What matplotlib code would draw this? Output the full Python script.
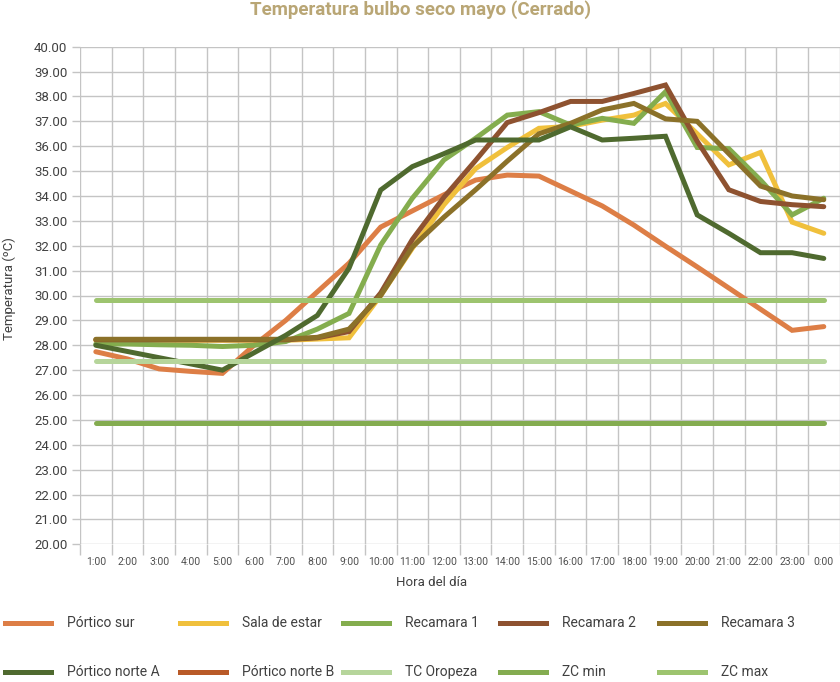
import matplotlib.pyplot as plt
from matplotlib.lines import Line2D

plt.rcParams['font.family'] = ['Roboto', 'DejaVu Sans']

hours = ["1:00", "2:00", "3:00", "4:00", "5:00", "6:00", "7:00", "8:00",
         "9:00", "10:00", "11:00", "12:00", "13:00", "14:00", "15:00", "16:00",
         "17:00", "18:00", "19:00", "20:00", "21:00", "22:00", "23:00", "0:00"]

portico_sur = [27.74, 27.45, 27.05, 26.95, 26.87, 28.0, 29.0, 30.15, 31.3, 32.75,
               33.4, 34.05, 34.64, 34.84, 34.8, 34.2, 33.6, 32.83, 31.98, 31.15,
               30.3, 29.45, 28.6, 28.75]
sala_estar = [28.2, 28.2, 28.2, 28.2, 28.2, 28.2, 28.2, 28.25, 28.3, 30.0,
              31.9, 33.65, 35.1, 35.95, 36.72, 36.8, 37.05, 37.25, 37.72, 36.5,
              35.25, 35.75, 32.95, 32.5]
recamara_1 = [28.05, 28.05, 28.02, 28.0, 27.95, 28.0, 28.15, 28.65, 29.28, 32.03,
              33.91, 35.45, 36.32, 37.25, 37.39, 36.85, 37.12, 36.92, 38.19, 35.95,
              35.9, 34.64, 33.24, 33.91]
recamara_2 = [28.22, 28.22, 28.22, 28.22, 28.22, 28.22, 28.22, 28.3, 28.55, 30.1,
              32.25, 33.95, 35.43, 36.95, 37.35, 37.8, 37.8, 38.12, 38.46, 36.2,
              34.25, 33.78, 33.65, 33.57]
recamara_3 = [28.24, 28.24, 28.24, 28.24, 28.24, 28.24, 28.24, 28.32, 28.65, 30.0,
              31.95, 33.15, 34.25, 35.4, 36.5, 36.92, 37.46, 37.72, 37.1, 37.0,
              35.7, 34.4, 34.0, 33.85]
portico_norte_a = [28.0, 27.75, 27.5, 27.25, 27.0, 27.7, 28.4, 29.2, 31.1, 34.24,
                   35.18, 35.7, 36.25, 36.25, 36.25, 36.78, 36.25, 36.32, 36.4, 33.24,
                   32.5, 31.72, 31.72, 31.49]
portico_norte_b = []
tc_oropeza = [27.35] * 24
zc_min = [24.88] * 24
zc_max = [29.8] * 24

series = [
    ("Pórtico sur", portico_sur, "#dd7e46"),
    ("Sala de estar", sala_estar, "#f0c03c"),
    ("Recamara 1", recamara_1, "#84ad4e"),
    ("Recamara 2", recamara_2, "#8e5230"),
    ("Recamara 3", recamara_3, "#8b7129"),
    ("Pórtico norte A", portico_norte_a, "#4f6a2f"),
    ("Pórtico norte B", portico_norte_b, "#b95a28"),
    ("TC Oropeza", tc_oropeza, "#b6d59b"),
    ("ZC min", zc_min, "#84ac50"),
    ("ZC max", zc_max, "#9dc46f"),
]

W, H = 840, 682
fig = plt.figure(figsize=(W / 100, H / 100), dpi=100)
ax = fig.add_axes([80 / W, 1 - 544.3 / H, 759.6 / W, (544.3 - 46.7) / H])

grid_c = "#c4c4c4"
for label, vals, color in series:
    xs = [i + 0.5 for i in range(len(vals))]
    ax.plot(xs, vals, color=color, lw=3.6, solid_capstyle="round",
            solid_joinstyle="miter", label=label)

ax.set_xlim(0, 24)
ax.set_ylim(20, 40)
ax.set_yticks(range(20, 41))
ax.set_yticklabels([f"{v:.2f}" for v in range(20, 41)])
ax.set_xticks(range(25))
ax.set_xticklabels([])
ax.set_xticks([i + 0.5 for i in range(24)], minor=True)
ax.set_xticklabels(hours, minor=True)
ax.grid(True, which="major", color=grid_c, lw=1.0)
ax.set_axisbelow(True)
for s in ax.spines.values():
    s.set_visible(False)
ax.tick_params(axis="y", length=6, color=grid_c, width=1.0, labelsize=9.5,
               labelcolor="#404040", pad=3)
ax.tick_params(axis="x", which="major", length=8, color=grid_c, width=1.0)
ax.tick_params(axis="x", which="minor", length=0, labelsize=7.5,
               labelcolor="#505050", pad=9)

fig.text(420 / W, 1 - 10 / H, "Temperatura bulbo seco mayo (Cerrado)",
         ha="center", va="center", fontsize=13.5, color="#b9a675",
         fontweight="bold")
fig.text(9 / W, 1 - 289 / H, "Temperatura (ºC)", rotation=90, ha="center",
         va="center", fontsize=9.5, color="#404040")
fig.text(432 / W, 1 - 582 / H, "Hora del día", ha="center", va="center",
         fontsize=9.5, color="#404040")

# legend, two rows of five like the original
col_x = [5, 180, 343, 500, 659]
row_y = [623, 672]
for k, (label, vals, color) in enumerate(series):
    r, c = divmod(k, 5)
    x0 = col_x[c]
    y0 = 1 - row_y[r] / H
    fig.add_artist(Line2D([x0 / W, (x0 + 46) / W], [y0, y0], color=color,
                          lw=3.6, transform=fig.transFigure))
    fig.text((x0 + 62) / W, y0, label, ha="left", va="center", fontsize=10,
             color="#404040")

plt.savefig("out.png", dpi=100)
